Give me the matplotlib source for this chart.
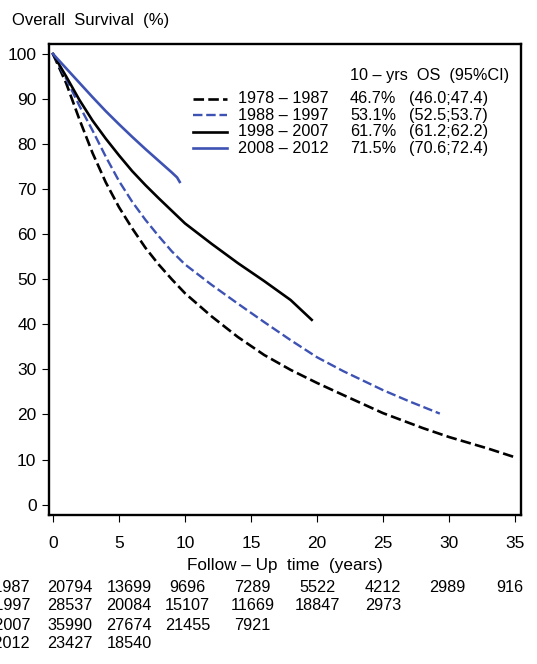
import matplotlib.pyplot as plt
import matplotlib.transforms as mtransforms

plt.rcParams['font.family'] = ['Liberation Sans', 'DejaVu Sans']

# survival curves (years, % alive)
t_7887 = [0, 1, 2, 3, 4, 5, 6, 7, 8, 9, 10, 12, 14, 16, 18, 20, 22, 25, 28, 30, 33, 35]
s_7887 = [100, 93.5, 85.5, 78, 71.5, 66, 61.3, 57, 53.3, 50, 46.9, 41.8, 37.2, 33.2, 29.9, 27, 24.3, 20.3, 17, 15, 12.4, 10.5]

t_8897 = [0, 1, 2, 3, 4, 5, 6, 7, 8, 9, 10, 12, 14, 16, 18, 20, 22, 25, 27, 29.3]
s_8897 = [100, 94.5, 88.5, 83, 77.2, 71.8, 67.2, 63.2, 59.6, 56.2, 53.3, 48.8, 44.6, 40.5, 36.5, 32.7, 29.6, 25.4, 22.9, 20.2]

t_9807 = [0, 1, 2, 3, 4, 5, 6, 7, 8, 9, 10, 12, 14, 16, 18, 19.6]
s_9807 = [100, 95, 89.8, 85.2, 81.2, 77.5, 74, 70.9, 68, 65.2, 62.4, 57.9, 53.6, 49.6, 45.4, 41]

t_0812 = [0, 1, 2, 3, 4, 5, 6, 7, 8, 9, 9.4, 9.6]
s_0812 = [100, 96.8, 93.6, 90.4, 87.3, 84.4, 81.6, 78.9, 76.3, 73.7, 72.6, 71.6]

periods = ['1978 – 1987', '1988 – 1997', '1998 – 2007', '2008 – 2012']
os10 = ['46.7%', '53.1%', '61.7%', '71.5%']
ci10 = ['(46.0;47.4)', '(52.5;53.7)', '(61.2;62.2)', '(70.6;72.4)']

# numbers at risk
risk = [
    ['20794', '13699', '9696', '7289', '5522', '4212', '2989', '916'],
    ['28537', '20084', '15107', '11669', '18847', '2973'],
    ['35990', '27674', '21455', '7921'],
    ['23427', '18540'],
]

blue = '#3d52b3'
styles = [
    dict(color='black', ls=(0, (4, 1.6)), lw=1.9),
    dict(color=blue, ls=(0, (4, 1.6)), lw=1.7),
    dict(color='black', ls='-', lw=1.9),
    dict(color=blue, ls='-', lw=1.9),
]
curves = [(t_7887, s_7887), (t_8897, s_8897), (t_9807, s_9807), (t_0812, s_0812)]

fig = plt.figure(figsize=(5.37, 6.64), dpi=100)
ax = fig.add_axes([49 / 537, 1 - 515 / 664, 472 / 537, 471 / 664])

for (t, s), st in zip(curves, styles):
    ax.plot(t, s, **st)

ax.set_xlim(-0.3, 35.45)
ax.set_ylim(-2.3, 102.2)
ax.set_xticks(range(0, 36, 5))
ax.set_yticks(range(0, 101, 10))
ax.tick_params(labelsize=12.5, length=5, width=0.8, pad=4)
ax.tick_params(axis='x', pad=10)
for sp in ax.spines.values():
    sp.set_linewidth(1.7)

ax.set_xlabel('Follow – Up  time  (years)', fontsize=12.3, labelpad=5)
fig.text(12 / 537, 1 - 20 / 664, 'Overall  Survival  (%)', fontsize=12, va='center')

# legend block
row_y = [90.1, 86.4, 82.7, 79.1]
ax.text(22.5, 95.3, '10 – yrs  OS  (95%CI)', fontsize=11.7, va='center')
for i in range(4):
    ax.plot([10.6, 13.2], [row_y[i]] * 2, **styles[i])
    ax.text(14.0, row_y[i], periods[i], fontsize=11.7, va='center')
    ax.text(22.5, row_y[i], os10[i], fontsize=11.7, va='center')
    ax.text(27.0, row_y[i], ci10[i], fontsize=11.7, va='center')

# risk table under the axis
col_x = [1.3, 5.75, 10.2, 15.1, 20.0, 25.0, 29.9, 34.6]
risk_y = [587, 606, 625, 644]
trans = mtransforms.blended_transform_factory(ax.transData, fig.transFigure)
for i, row in enumerate(risk):
    fy = 1 - risk_y[i] / 664
    fig.text(30 / 537, fy, periods[i], fontsize=11.7, ha='right', va='center')
    for j, val in enumerate(row):
        ax.text(col_x[j], fy, val, transform=trans, fontsize=11.7,
                ha='center', va='center', clip_on=False)

fig.savefig('out.png', dpi=100)
